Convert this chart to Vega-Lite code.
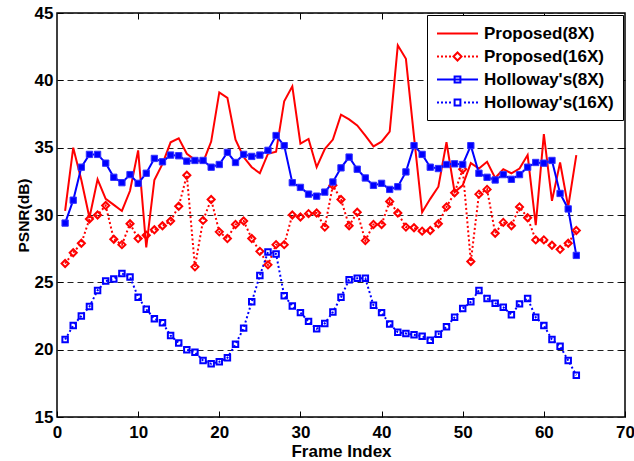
{
  "$schema": "https://vega.github.io/schema/vega-lite/v6.json",
  "width": 568,
  "height": 404,
  "autosize": {"type": "none"},
  "padding": {"left": 57, "top": 13, "right": 9, "bottom": 44},
  "background": "white",
  "data": {"values": [
    {"f":1,"P8":30.3,"P16":26.4,"H8":29.4,"H16":20.75},
    {"f":2,"P8":35.0,"P16":27.2,"H8":31.1,"H16":21.8},
    {"f":3,"P8":32.6,"P16":27.9,"H8":33.55,"H16":22.5},
    {"f":4,"P8":29.8,"P16":29.7,"H8":34.5,"H16":23.2},
    {"f":5,"P8":32.65,"P16":30.0,"H8":34.5,"H16":24.4},
    {"f":6,"P8":31.2,"P16":30.7,"H8":33.85,"H16":25.1},
    {"f":7,"P8":30.75,"P16":28.2,"H8":32.8,"H16":25.25},
    {"f":8,"P8":30.3,"P16":27.8,"H8":32.4,"H16":25.65},
    {"f":9,"P8":31.8,"P16":29.35,"H8":33.0,"H16":25.4},
    {"f":10,"P8":34.8,"P16":28.25,"H8":32.35,"H16":23.9},
    {"f":11,"P8":27.6,"P16":28.5,"H8":33.1,"H16":23.0},
    {"f":12,"P8":32.6,"P16":28.9,"H8":34.2,"H16":22.3},
    {"f":13,"P8":33.8,"P16":29.2,"H8":33.95,"H16":22.0},
    {"f":14,"P8":35.4,"P16":29.55,"H8":34.45,"H16":21.05},
    {"f":15,"P8":35.7,"P16":30.65,"H8":34.4,"H16":20.5},
    {"f":16,"P8":34.55,"P16":32.95,"H8":34.0,"H16":20.0},
    {"f":17,"P8":34.1,"P16":26.15,"H8":34.05,"H16":19.8},
    {"f":18,"P8":33.9,"P16":29.6,"H8":34.05,"H16":19.2},
    {"f":19,"P8":35.45,"P16":31.15,"H8":33.55,"H16":18.95},
    {"f":20,"P8":39.1,"P16":28.75,"H8":33.75,"H16":19.1},
    {"f":21,"P8":38.7,"P16":28.25,"H8":34.65,"H16":19.4},
    {"f":22,"P8":35.6,"P16":29.3,"H8":33.9,"H16":20.4},
    {"f":23,"P8":34.3,"P16":29.55,"H8":34.5,"H16":21.6},
    {"f":24,"P8":33.55,"P16":28.25,"H8":34.35,"H16":23.55},
    {"f":25,"P8":33.1,"P16":27.3,"H8":34.45,"H16":25.5},
    {"f":26,"P8":34.55,"P16":26.3,"H8":34.8,"H16":27.25},
    {"f":27,"P8":34.7,"P16":27.8,"H8":35.9,"H16":27.1},
    {"f":28,"P8":38.45,"P16":27.8,"H8":35.15,"H16":24.0},
    {"f":29,"P8":39.55,"P16":30.0,"H8":32.4,"H16":23.25},
    {"f":30,"P8":35.3,"P16":29.85,"H8":32.05,"H16":22.75},
    {"f":31,"P8":35.65,"P16":30.1,"H8":31.55,"H16":22.1},
    {"f":32,"P8":33.55,"P16":30.15,"H8":31.4,"H16":21.55},
    {"f":33,"P8":34.9,"P16":29.1,"H8":31.7,"H16":21.95},
    {"f":34,"P8":35.6,"P16":32.2,"H8":32.45,"H16":22.8},
    {"f":35,"P8":37.45,"P16":31.15,"H8":33.5,"H16":23.9},
    {"f":36,"P8":37.1,"P16":29.2,"H8":34.3,"H16":25.2},
    {"f":37,"P8":36.65,"P16":30.2,"H8":33.4,"H16":25.3},
    {"f":38,"P8":35.9,"P16":28.1,"H8":32.75,"H16":25.3},
    {"f":39,"P8":35.1,"P16":29.3,"H8":32.2,"H16":23.3},
    {"f":40,"P8":35.45,"P16":29.3,"H8":32.35,"H16":22.75},
    {"f":41,"P8":36.2,"P16":31.0,"H8":31.9,"H16":21.9},
    {"f":42,"P8":42.6,"P16":30.15,"H8":32.1,"H16":21.3},
    {"f":43,"P8":41.6,"P16":29.1,"H8":33.2,"H16":21.2},
    {"f":44,"P8":35.8,"P16":29.05,"H8":35.15,"H16":21.1},
    {"f":45,"P8":30.2,"P16":28.8,"H8":34.5,"H16":21.0},
    {"f":46,"P8":31.2,"P16":28.85,"H8":33.55,"H16":20.7},
    {"f":47,"P8":32.1,"P16":29.35,"H8":33.45,"H16":21.15},
    {"f":48,"P8":35.4,"P16":30.6,"H8":33.75,"H16":21.7},
    {"f":49,"P8":31.7,"P16":31.65,"H8":33.8,"H16":22.4},
    {"f":50,"P8":32.2,"P16":33.4,"H8":33.75,"H16":23.05},
    {"f":51,"P8":33.85,"P16":26.55,"H8":35.15,"H16":23.55},
    {"f":52,"P8":33.45,"P16":31.55,"H8":33.1,"H16":24.4},
    {"f":53,"P8":33.95,"P16":31.9,"H8":32.8,"H16":23.8},
    {"f":54,"P8":32.75,"P16":28.65,"H8":32.6,"H16":23.45},
    {"f":55,"P8":33.4,"P16":29.45,"H8":33.0,"H16":23.15},
    {"f":56,"P8":33.1,"P16":29.2,"H8":32.65,"H16":22.6},
    {"f":57,"P8":33.45,"P16":30.6,"H8":33.0,"H16":23.4},
    {"f":58,"P8":34.45,"P16":29.8,"H8":33.55,"H16":23.8},
    {"f":59,"P8":29.25,"P16":28.15,"H8":33.9,"H16":22.4},
    {"f":60,"P8":36.0,"P16":28.15,"H8":33.85,"H16":21.8},
    {"f":61,"P8":31.05,"P16":27.75,"H8":34.05,"H16":20.75},
    {"f":62,"P8":33.9,"P16":27.45,"H8":31.6,"H16":20.25},
    {"f":63,"P8":30.6,"P16":27.9,"H8":30.45,"H16":19.2},
    {"f":64,"P8":34.45,"P16":28.85,"H8":27.0,"H16":18.1}
  ]},
  "transform": [{"fold": ["P8", "P16", "H8", "H16"], "as": ["s", "v"]}],
  "layer": [
    {
      "transform": [{"filter": "datum.s == 'P8'"}],
      "mark": {"type": "line", "strokeWidth": 2, "color": "#ff0000"},
      "encoding": {
        "x": {"field": "f", "type": "quantitative", "scale": {"domain": [0, 70], "nice": false},
          "axis": {"orient": "bottom", "values": [0, 10, 20, 30, 40, 50, 60, 70], "title": "Frame Index", "grid": false, "domain": false,
            "tickSize": -6, "tickColor": "black", "tickWidth": 1, "labelPadding": 13, "labelFlush": false, "labelOverlap": false,
            "labelFontSize": 17, "labelFontWeight": "bold", "labelColor": "black", "titleFontSize": 17, "titleFontWeight": "bold", "titleColor": "black", "titlePadding": 3}},
        "y": {"field": "v", "type": "quantitative", "scale": {"domain": [15, 45], "nice": false},
          "axis": {"orient": "left", "values": [15, 20, 25, 30, 35, 40, 45], "title": "PSNR(dB)", "grid": true, "gridDash": [6, 4], "gridColor": "#222", "gridWidth": 1, "domain": false,
            "tickSize": -6, "tickColor": "black", "tickWidth": 1, "labelPadding": 10, "labelOverlap": false, "labelFlush": false,
            "labelFontSize": 17, "labelFontWeight": "bold", "labelColor": "black", "titleFontSize": 15.5, "titleFontWeight": "bold", "titleColor": "black", "titlePadding": 3}}
      }
    },
    {
      "transform": [{"filter": "datum.s == 'P16'"}],
      "mark": {"type": "line", "strokeWidth": 2, "color": "#ff0000", "strokeDash": [2, 2.5]},
      "encoding": {
        "x": {"field": "f", "type": "quantitative", "axis": {"orient": "top", "values": [10, 20, 30, 40, 50, 60], "labels": false, "title": null, "grid": false, "domain": false, "tickSize": -6, "tickColor": "black"}},
        "y": {"field": "v", "type": "quantitative", "axis": {"orient": "right", "values": [20, 25, 30, 35, 40], "labels": false, "title": null, "grid": false, "domain": false, "tickSize": -6, "tickColor": "black"}}
      }
    },
    {
      "transform": [{"filter": "datum.s == 'H8'"}],
      "mark": {"type": "line", "strokeWidth": 2, "color": "#0000ff"},
      "encoding": {
        "x": {"field": "f", "type": "quantitative", "axis": null},
        "y": {"field": "v", "type": "quantitative", "axis": null}
      }
    },
    {
      "transform": [{"filter": "datum.s == 'H16'"}],
      "mark": {"type": "line", "strokeWidth": 2, "color": "#0000ff", "strokeDash": [2, 2.5]},
      "encoding": {
        "x": {"field": "f", "type": "quantitative", "axis": null},
        "y": {"field": "v", "type": "quantitative", "axis": null}
      }
    },
    {
      "transform": [{"filter": "datum.s == 'P16'"}],
      "mark": {"type": "point", "shape": "diamond", "filled": false, "color": "#ff0000", "strokeWidth": 2, "size": 50, "opacity": 1},
      "encoding": {
        "x": {"field": "f", "type": "quantitative", "axis": null},
        "y": {"field": "v", "type": "quantitative", "axis": null}
      }
    },
    {
      "transform": [{"filter": "datum.s == 'H8'"}],
      "mark": {"type": "square", "filled": true, "color": "#0000ff", "stroke": "#3333ff", "strokeWidth": 1, "size": 40, "opacity": 1},
      "encoding": {
        "x": {"field": "f", "type": "quantitative", "axis": null},
        "y": {"field": "v", "type": "quantitative", "axis": null}
      }
    },
    {
      "transform": [{"filter": "datum.s == 'H16'"}],
      "mark": {"type": "point", "shape": "square", "filled": false, "color": "#0000ff", "strokeWidth": 2, "size": 30, "opacity": 1},
      "encoding": {
        "x": {"field": "f", "type": "quantitative", "axis": null},
        "y": {"field": "v", "type": "quantitative", "axis": null}
      }
    },
    {
      "transform": [{"filter": "datum.f == 1"}],
      "mark": {"type": "point", "filled": false, "strokeWidth": 2, "opacity": 0},
      "encoding": {
        "x": {"field": "f", "type": "quantitative", "axis": null},
        "y": {"field": "v", "type": "quantitative", "axis": null},
        "color": {"field": "s", "type": "nominal", "scale": {"domain": ["P8", "P16", "H8", "H16"], "range": ["#ff0000", "#ff0000", "#0000ff", "#0000ff"]},
          "legend": {"labelExpr": "datum.label == 'P8' ? 'Proposed(8X)' : datum.label == 'P16' ? 'Proposed(16X)' : datum.label == 'H8' ? \"Holloway's(8X)\" : \"Holloway's(16X)\""}},
        "shape": {"field": "s", "type": "nominal", "scale": {"domain": ["P8", "P16", "H8", "H16"], "range": [
          "M-1,0L3.824,0",
          "M-1,0L-0.765,0M-0.529,0L-0.294,0M-0.059,0L0.176,0M0.412,0L0.647,0M2.176,0L2.412,0M2.647,0L2.882,0M3.118,0L3.353,0M3.588,0L3.824,0M0.941,0L1.412,-0.471L1.882,0L1.412,0.471Z",
          "M-1,0L3.824,0M1.071,-0.341L1.753,-0.341L1.753,0.341L1.071,0.341Z",
          "M-1,0L-0.765,0M-0.529,0L-0.294,0M-0.059,0L0.176,0M0.412,0L0.647,0M2.176,0L2.412,0M2.647,0L2.882,0M3.118,0L3.353,0M3.588,0L3.824,0M1.071,-0.341L1.753,-0.341L1.753,0.341L1.071,0.341Z"
        ]},
          "legend": {"labelExpr": "datum.label == 'P8' ? 'Proposed(8X)' : datum.label == 'P16' ? 'Proposed(16X)' : datum.label == 'H8' ? \"Holloway's(8X)\" : \"Holloway's(16X)\""}}
      }
    }
  ],
  "resolve": {"axis": {"x": "independent", "y": "independent"}},
  "config": {
    "font": "Liberation Sans",
    "view": {"stroke": "black", "strokeWidth": 1.5},
    "legend": {
      "orient": "top-right", "offset": 2, "title": null,
      "labelFont": "Liberation Sans", "labelFontSize": 17, "labelFontWeight": "bold", "labelColor": "black",
      "strokeColor": "black", "fillColor": "white", "padding": 9,
      "symbolSize": 289, "symbolStrokeWidth": 2, "symbolOpacity": 1, "labelOffset": 29, "rowPadding": 5
    }
  }
}
